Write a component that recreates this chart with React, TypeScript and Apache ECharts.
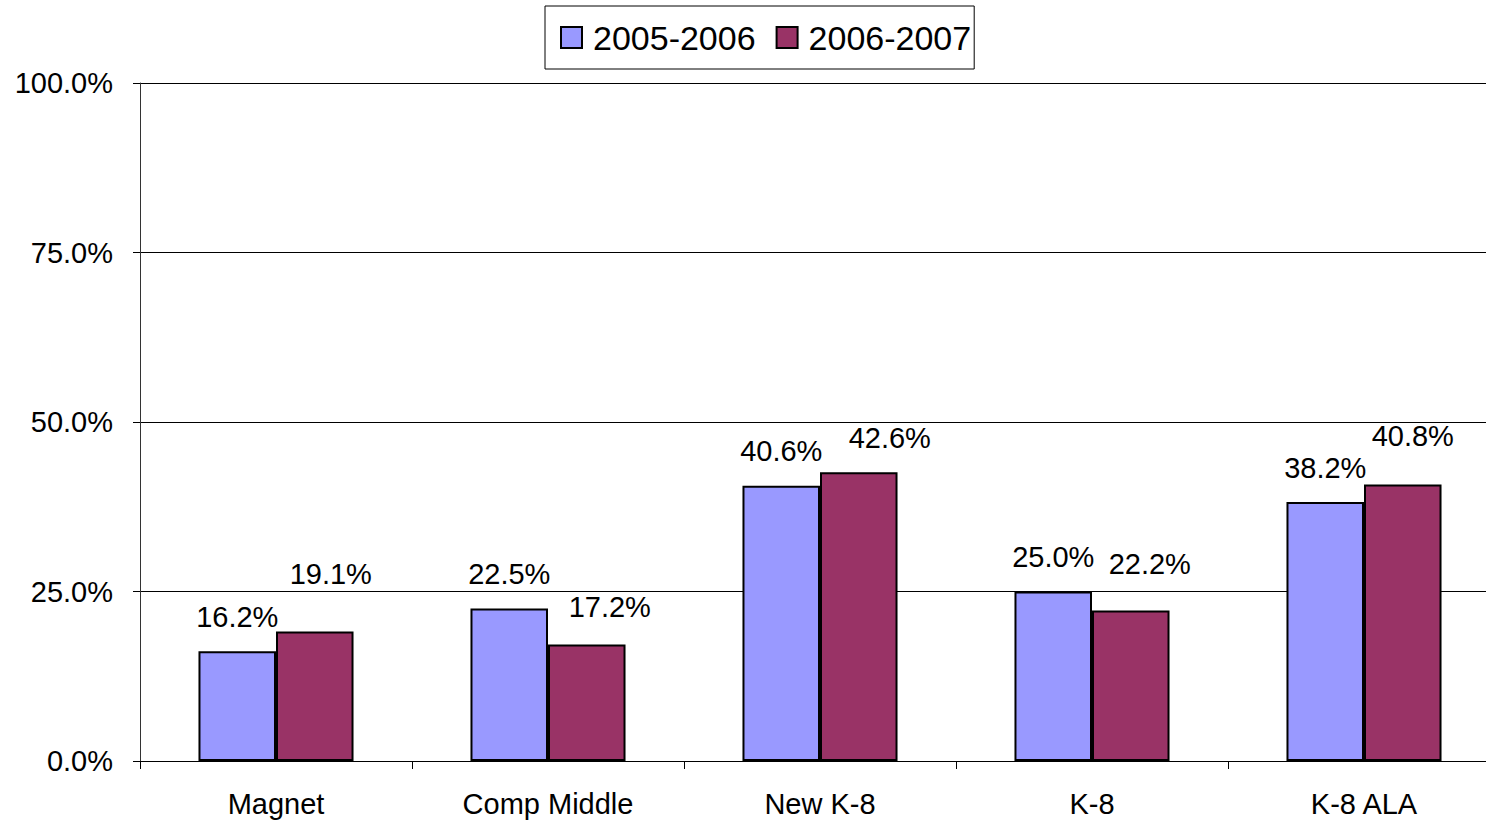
import React, { useEffect, useRef } from "react";
import * as echarts from "echarts";

const categories = ["Magnet", "Comp Middle", "New K-8", "K-8", "K-8 ALA"];
const seriesNames = ["2005-2006", "2006-2007"];
const values2005 = [16.2, 22.5, 40.6, 25.0, 38.2];
const values2006 = [19.1, 17.2, 42.6, 22.2, 40.8];
const yTicks = [0, 25, 50, 75, 100];

// label nudges for the second series (style only)
const label2Shift = [
  [16, -23],
  [23, -3],
  [31, 0],
  [19, -12],
  [10, -14],
];

const FONT = "'Liberation Sans', Arial, sans-serif";

export default function App() {
  const ref = useRef<HTMLDivElement>(null);
  useEffect(() => {
    if (!ref.current) return;
    const chart = echarts.init(ref.current, null, { renderer: "svg" });
    const labelBase = {
      show: true,
      position: "top",
      distance: 20,
      color: "#000",
      fontFamily: FONT,
      fontSize: 29,
      formatter: (p: any) => Number(p.value).toFixed(1) + "%",
    };
    chart.setOption({
      animation: false,
      backgroundColor: "#fff",
      textStyle: { fontFamily: FONT },
      legend: {
        left: 545,
        top: 6,
        padding: [14, 3, 14, 15],
        itemWidth: 21,
        itemHeight: 21,
        itemGap: 20,
        borderColor: "#000",
        borderWidth: 1,
        icon: "rect",
        textStyle: {
          fontFamily: FONT,
          fontSize: 34,
          color: "#000",
          padding: [0, 0, 0, 6],
          lineHeight: 35,
        },
        data: seriesNames,
      },
      grid: {
        left: 140,
        width: 1360,
        top: 83,
        bottom: 61,
        containLabel: false,
        outerBoundsMode: "none",
      },
      xAxis: {
        type: "category",
        data: categories,
        axisLine: { show: true, lineStyle: { color: "#000", width: 1 } },
        axisTick: { show: true, length: 8, lineStyle: { color: "#000" } },
        axisLabel: { color: "#000", fontFamily: FONT, fontSize: 29, margin: 28 },
      },
      yAxis: {
        type: "value",
        min: yTicks[0],
        max: yTicks[yTicks.length - 1],
        interval: 25,
        axisLine: { show: true, lineStyle: { color: "#333", width: 1 } },
        axisTick: { show: true, length: 7, lineStyle: { color: "#000" } },
        axisLabel: {
          color: "#000",
          fontFamily: FONT,
          fontSize: 29,
          margin: 27,
          formatter: (v: number) => v.toFixed(1) + "%",
        },
        splitLine: { show: true, lineStyle: { color: "#000", width: 1 } },
      },
      series: [
        {
          name: seriesNames[0],
          type: "bar",
          data: values2005,
          barGap: "0%",
          barCategoryGap: "43%",
          itemStyle: { color: "#9999FF", borderColor: "#000", borderWidth: 2 },
          label: labelBase,
        },
        {
          name: seriesNames[1],
          type: "bar",
          data: values2006.map((v, i) => ({
            value: v,
            label: { offset: label2Shift[i] },
          })),
          barGap: "0%",
          barCategoryGap: "43%",
          itemStyle: { color: "#993366", borderColor: "#000", borderWidth: 2 },
          label: labelBase,
        },
      ],
    });
    return () => chart.dispose();
  }, []);
  return (
    <div
      ref={ref}
      style={{ position: "fixed", left: 0, top: 0, width: 1486, height: 822, background: "#fff" }}
    />
  );
}
